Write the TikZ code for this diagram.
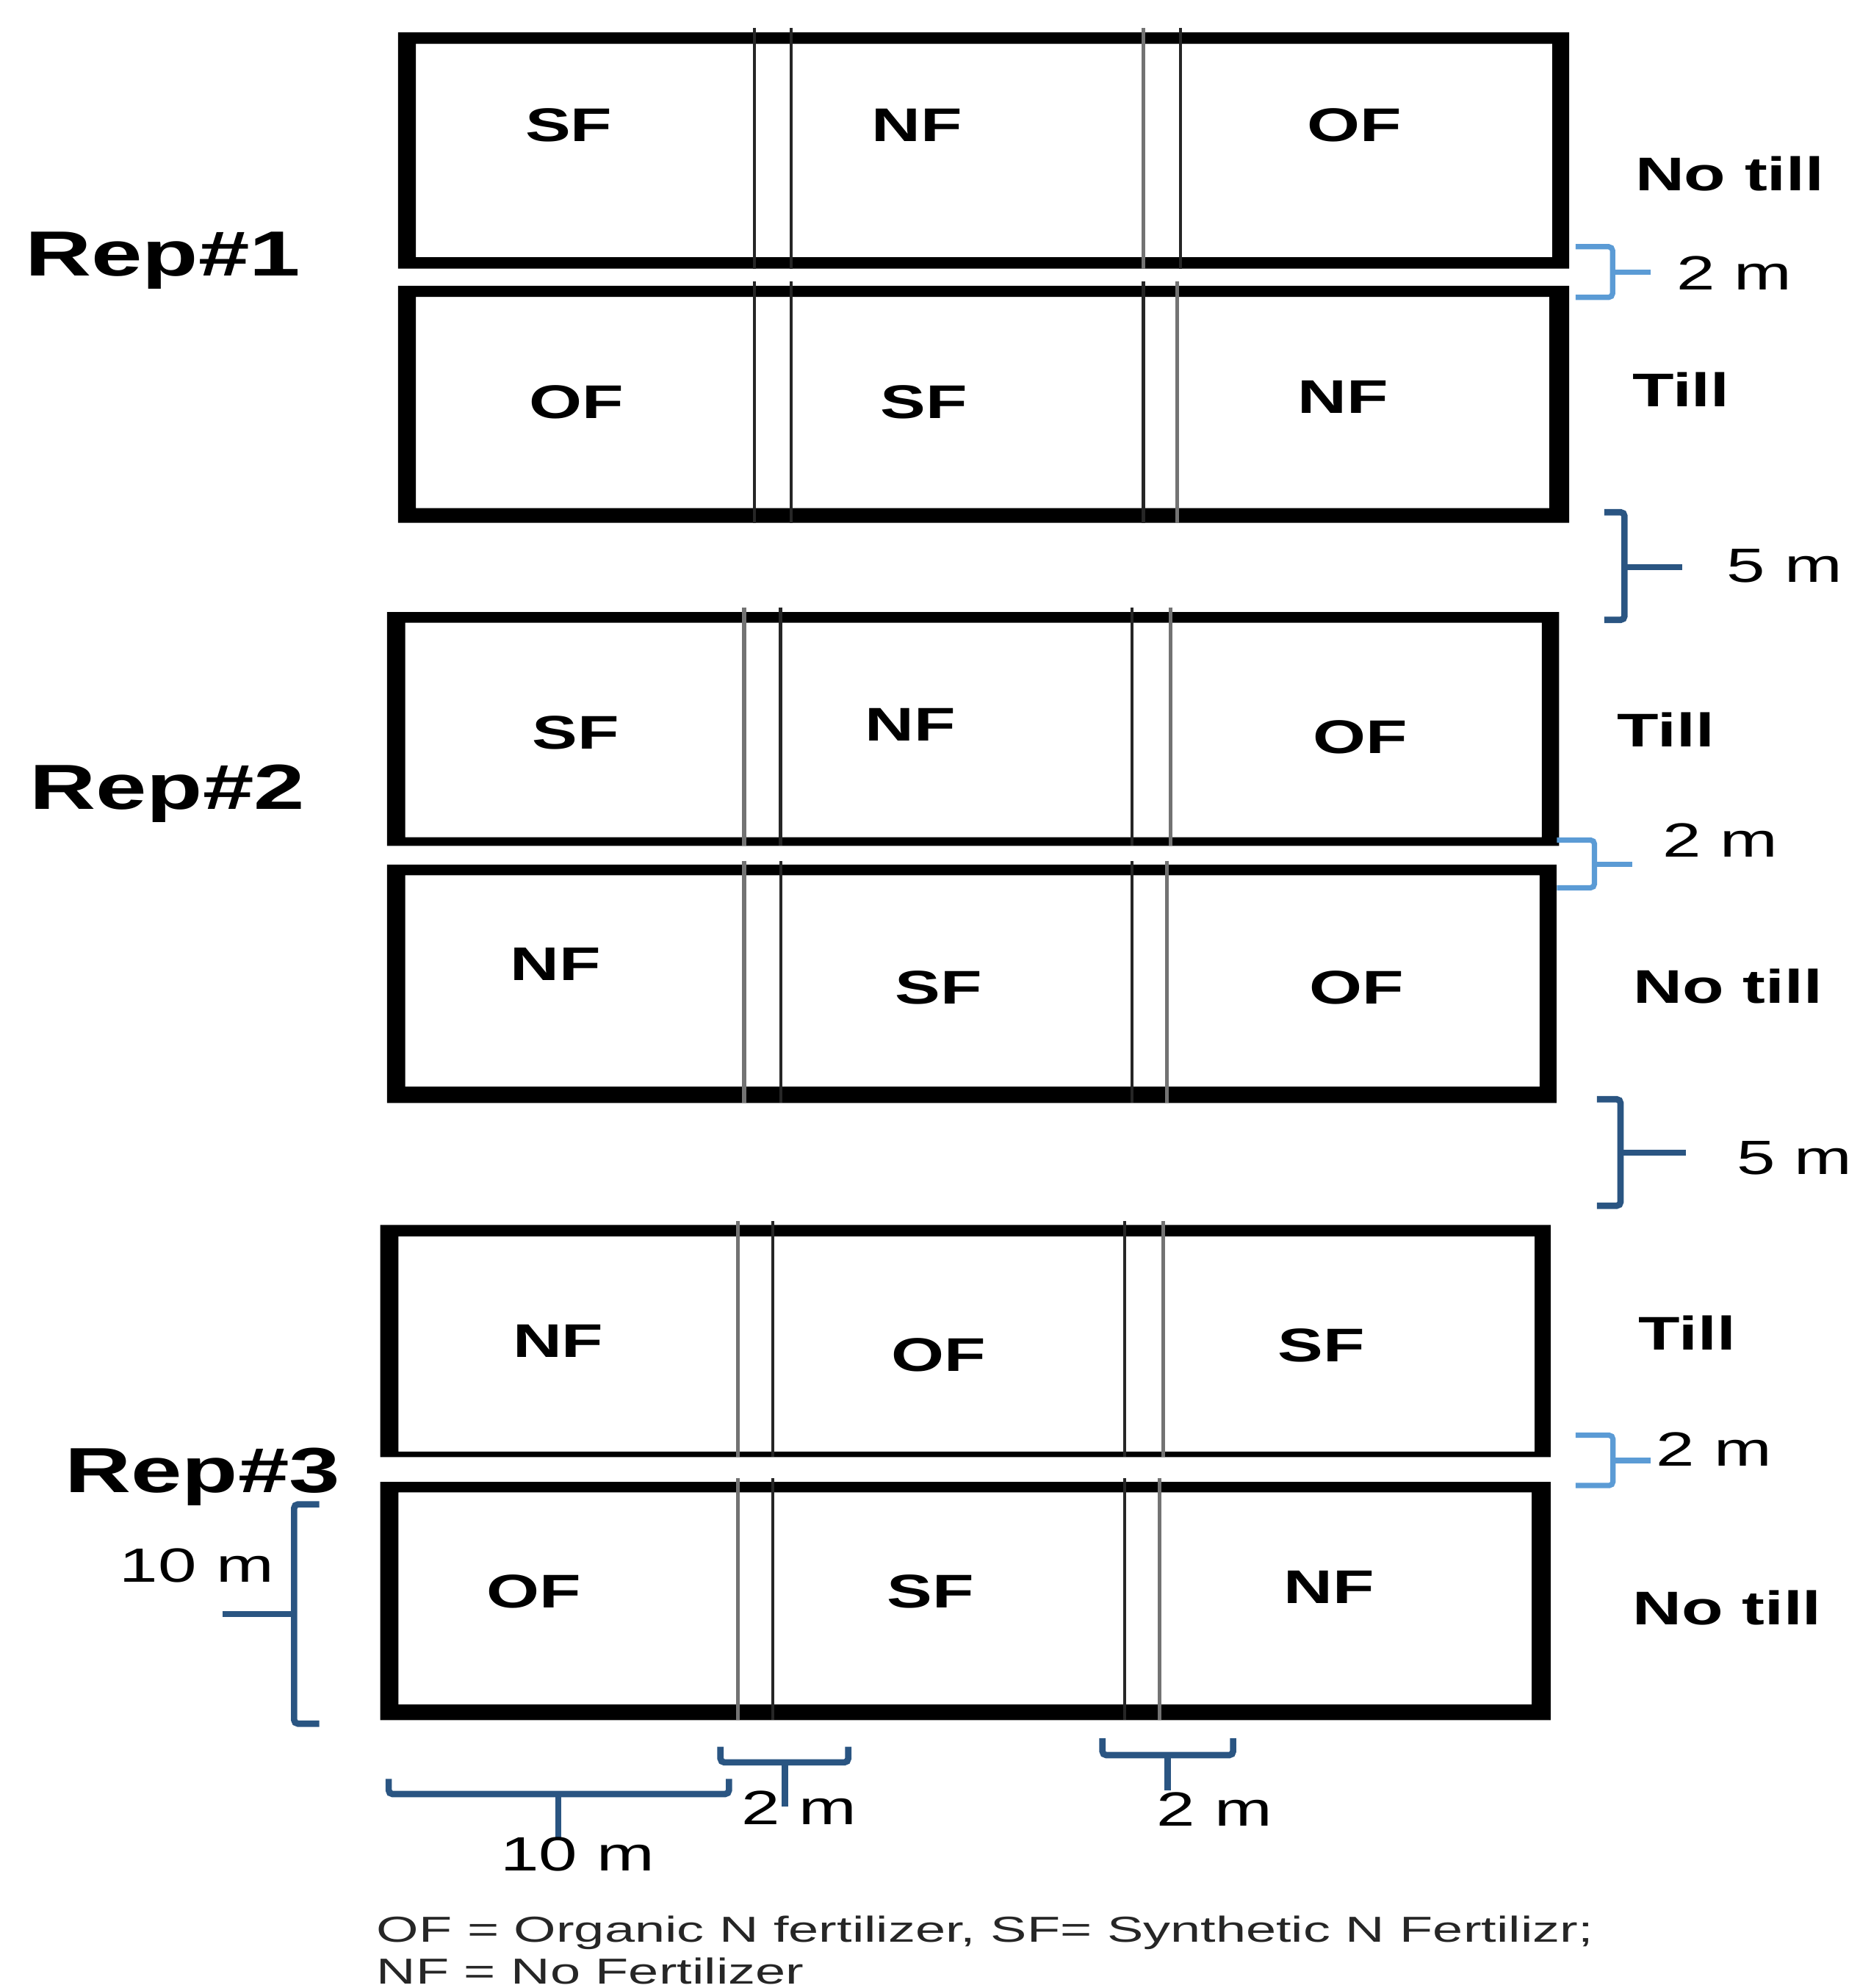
\documentclass[tikz,border=0pt]{standalone}
\usepackage{fontspec}
\setmainfont{Liberation Sans}[FakeStretch=1.44]
\newfontfamily\legfont{Liberation Sans}[FakeStretch=1.505]
\definecolor{lightbr}{RGB}{91,155,213}
\definecolor{darkbr}{RGB}{42,85,130}
\newcommand{\plotbox}[8]{\fill[black,even odd rule] (#1,#2) rectangle (#3,#4) (#5,#6) rectangle (#7,#8);}
\begin{document}
\begin{tikzpicture}[x=0.1mm,y=-0.1mm,
  lbl/.style={font=\fontsize{10.6}{12}\selectfont\bfseries, anchor=base, inner sep=0},
  rep/.style={font=\fontsize{14.3}{16}\selectfont\bfseries, anchor=base, inner sep=0},
  dim/.style={font=\fontsize{10.8}{12}\selectfont, anchor=base, inner sep=0},
  leg/.style={font=\legfont\fontsize{8.1}{9}\selectfont, anchor=base west, inner sep=0, text=black!85},
  lbrace/.style={draw=lightbr, line width=0.42mm, rounded corners=0.3mm},
  dbrace/.style={draw=darkbr, line width=0.5mm, rounded corners=0.3mm},
  divd/.style={draw=black!85, line width=0.25mm},
  divg/.style={draw=black!55, line width=0.3mm}]
\useasboundingbox (0,0) rectangle (1467,1568);

% ---------- Rep 1 ----------
\plotbox{314}{25.6}{1237.8}{211.9}{328}{34.6}{1224.5}{202.9}
\draw[divd] (595,22) -- (595,211.9);
\draw[divd] (624,22) -- (624,211.9);
\draw[divg] (902,22) -- (902,211.9);
\draw[divd] (931,22) -- (931,211.9);
\plotbox{314}{225.5}{1237.8}{412.4}{328}{234.2}{1222.2}{400.8}
\draw[divd] (595,222) -- (595,412.4);
\draw[divd] (624,222) -- (624,412.4);
\draw[divd] (902,222) -- (902,412.4);
\draw[divg] (928.5,222) -- (928.5,412.4);

\node[lbl] (a1) at (448.6,111.4) {SF};
\node[lbl] (a2) at (723.4,111.4) {NF};
\node[lbl] (a3) at (1068.4,111.4) {OF};
\node[lbl] (b1) at (454.5,330) {OF};
\node[lbl] (b2) at (728.7,330) {SF};
\node[lbl] (b3) at (1059.2,326) {NF};

% ---------- Rep 2 ----------
\plotbox{305.3}{482.8}{1229.8}{667.1}{319.6}{491.1}{1216.2}{660.4}
\draw[divg] (587,479) -- (587,667.1);
\draw[divd] (615.6,479) -- (615.6,667.1);
\draw[divd] (893,479) -- (893,667.1);
\draw[divg] (923.5,479) -- (923.5,667.1);
\plotbox{305.3}{682}{1227.8}{870}{319.6}{690.3}{1214.5}{857}
\draw[divg] (587,679) -- (587,870);
\draw[divd] (616,679) -- (616,870);
\draw[divd] (893,679) -- (893,870);
\draw[divg] (920.5,679) -- (920.5,870);

\node[lbl] (c1) at (454,590.6) {SF};
\node[lbl] (c2) at (718,584.2) {NF};
\node[lbl] (c3) at (1073,594) {OF};
\node[lbl] (d1) at (438.1,773.5) {NF};
\node[lbl] (d2) at (740.4,792) {SF};
\node[lbl] (d3) at (1070,792) {OF};

% ---------- Rep 3 ----------
\plotbox{300}{966.2}{1223.2}{1149.2}{314.3}{975.2}{1210.5}{1144.9}
\draw[divg] (582,963) -- (582,1149.2);
\draw[divd] (609.6,963) -- (609.6,1149.2);
\draw[divd] (887,963) -- (887,1149.2);
\draw[divg] (917.5,963) -- (917.5,1149.2);
\plotbox{300}{1168.8}{1223.2}{1356.7}{314.3}{1177.1}{1208.2}{1344.4}
\draw[divg] (582,1166) -- (582,1356.7);
\draw[divd] (609.6,1166) -- (609.6,1356.7);
\draw[divd] (887,1166) -- (887,1356.7);
\draw[divg] (914.5,1166) -- (914.5,1356.7);

\node[lbl] (e1) at (440.3,1070.7) {NF};
\node[lbl] (e2) at (740.2,1081.7) {OF};
\node[lbl] (e3) at (1042.5,1074) {SF};
\node[lbl] (f1) at (420.9,1268) {OF};
\node[lbl] (f2) at (734,1268) {SF};
\node[lbl] (f3) at (1048.2,1264.6) {NF};

% ---------- Rep labels ----------
\node[rep] (rep1) at (128.5,217.8) {Rep\#1};
\node[rep] (rep2) at (132,638) {Rep\#2};
\node[rep] (rep3) at (159.7,1177) {Rep\#3};

% ---------- right side labels ----------
\node[lbl] (t1) at (1364.4,150.3) {No till};
\node[lbl] (t2) at (1326,320.9) {Till};
\node[lbl] (t3) at (1314,589) {Till};
\node[lbl] (t4) at (1363,791.4) {No till};
\node[lbl] (t5) at (1331,1065) {Till};
\node[lbl] (t6) at (1362.3,1281.6) {No till};

% light blue 2 m brackets
\draw[lbrace] (1242.8,194.6) -- (1272,194.6) -- (1272,234.5) -- (1242.8,234.5);
\draw[lbrace] (1272,214.5) -- (1301.9,214.5);
\node[dim] (m1) at (1368,228.8) {2 m};
\draw[lbrace] (1228,662.6) -- (1257.7,662.6) -- (1257.7,700.2) -- (1228,700.2);
\draw[lbrace] (1257.7,681.5) -- (1287.6,681.5);
\node[dim] (m2) at (1357,676.2) {2 m};
\draw[lbrace] (1242.8,1132) -- (1272.3,1132) -- (1272.3,1171.7) -- (1242.8,1171.7);
\draw[lbrace] (1272.3,1152) -- (1301.9,1152);
\node[dim] (m3) at (1352,1156) {2 m};

% dark 5 m brackets
\draw[dbrace] (1265.5,404) -- (1281.4,404) -- (1281.4,488.9) -- (1265.5,488.9);
\draw[dbrace] (1281.4,447.3) -- (1326.8,447.3);
\node[dim] (f5a) at (1407.7,459) {5 m};
\draw[dbrace] (1259.6,867) -- (1278.3,867) -- (1278.3,951) -- (1259.6,951);
\draw[dbrace] (1278.3,909.1) -- (1329.6,909.1);
\node[dim] (f5b) at (1415.4,926) {5 m};

% ---------- left 10 m bracket ----------
\draw[dbrace] (251.9,1186.5) -- (232,1186.5) -- (232,1359.5) -- (251.9,1359.5);
\draw[dbrace] (232,1273.1) -- (175.3,1273.1);
\node[dim] (l10) at (155.2,1247.7) {10 m};

% ---------- bottom brackets ----------
\draw[dbrace] (306.6,1403) -- (306.6,1415) -- (575,1415) -- (575,1403);
\draw[dbrace] (440.4,1415) -- (440.4,1450);
\node[dim] (b10) at (455.5,1475.6) {10 m};
\draw[dbrace] (568.3,1377.7) -- (568.3,1390) -- (669.1,1390) -- (669.1,1377.7);
\draw[dbrace] (619.2,1390) -- (619.2,1425);
\node[dim] (b2a) at (630.4,1439.2) {2 m};
\draw[dbrace] (869.6,1371) -- (869.6,1384.3) -- (972.7,1384.3) -- (972.7,1371);
\draw[dbrace] (921.2,1384.3) -- (921.2,1412);
\node[dim] (b2b) at (958,1440.3) {2 m};

% ---------- legend ----------
\node[leg] (leg1) at (296.5,1531.8) {OF = Organic N fertilizer, SF= Synthetic N Fertilizr;};
\node[leg] (leg2) at (296.5,1565) {NF = No Fertilizer};
\end{tikzpicture}
\end{document}
